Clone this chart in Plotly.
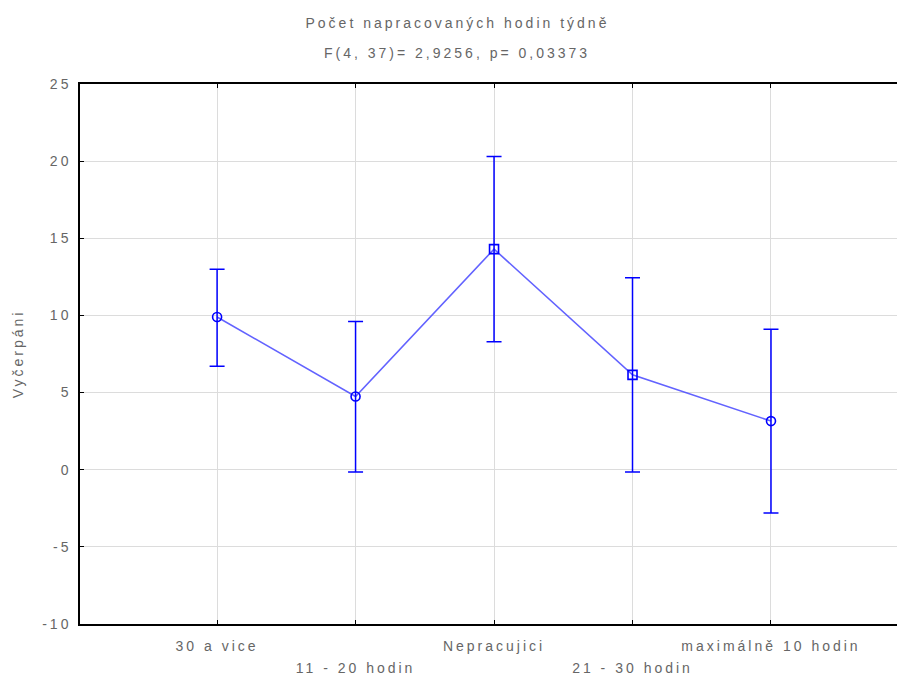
import plotly.graph_objects as go

categories = ["30 a vice", "11 - 20 hodin", "Nepracujici", "21 - 30 hodin", "maximálně 10 hodin"]
means = [9.9, 4.75, 14.3, 6.15, 3.15]
err_up = [3.1, 4.85, 6.0, 6.3, 5.95]
err_down = [3.2, 4.9, 6.0, 6.3, 5.95]
marker_symbols = ["circle-open", "circle-open", "square-open", "square-open", "circle-open"]
y_ticks = [-10, -5, 0, 5, 10, 15, 20, 25]
y_tick_labels = ["-10", "-5", "0", "5", "10", "15", "20", "25"]
title_line1 = "Počet napracovaných hodin týdně"
title_line2 = "F(4, 37)= 2,9256, p= 0,03373"
y_title = "Vyčerpáni"

idx = list(range(len(categories)))
row2_vals = [i for i in idx if i % 2 == 1]
row2_text = [categories[i] for i in row2_vals]

font_col = "#666666"
fam = "Liberation Sans, Arial, sans-serif"
FS = 14
xr = [-0.99, 4.91]

fig = go.Figure()
fig.add_trace(go.Scatter(
    x=idx, y=means, mode="lines",
    line=dict(color="rgba(70,70,255,0.85)", width=1.6),
    hoverinfo="skip", showlegend=False,
))
fig.add_trace(go.Scatter(
    x=idx, y=means, mode="markers",
    marker=dict(symbol=marker_symbols, size=9, color="#0000ff",
                line=dict(color="#0000ff", width=1.6)),
    error_y=dict(type="data", symmetric=False, array=err_up, arrayminus=err_down,
                 color="#0000ff", thickness=1.5, width=7.5),
    showlegend=False,
))
# invisible trace to keep the second (lower-row) category axis alive
fig.add_trace(go.Scatter(x=idx, y=means, xaxis="x2", mode="markers",
                         marker=dict(opacity=0), hoverinfo="skip", showlegend=False))

fig.update_layout(
    width=897, height=680,
    margin=dict(l=80, r=0, t=84, b=56),
    paper_bgcolor="white", plot_bgcolor="white",
    font=dict(family=fam, size=FS, color=font_col),
    annotations=[
        dict(text=title_line1, xref="paper", yref="paper",
             x=0.462, y=1, yshift=61, showarrow=False, xanchor="center", yanchor="middle",
             font=dict(size=FS, color=font_col)),
        dict(text=title_line2, xref="paper", yref="paper",
             x=0.462, y=1, yshift=31, showarrow=False, xanchor="center", yanchor="middle",
             font=dict(size=FS, color=font_col)),
    ],
    xaxis=dict(
        range=xr, tickmode="array", tickvals=idx,
        ticktext=[categories[i] if i % 2 == 0 else "" for i in idx],
        showgrid=True, gridcolor="#dcdcdc", gridwidth=1,
        showline=True, linecolor="black", linewidth=1.5, mirror="ticks",
        ticks="inside", ticklen=4, tickcolor="black", zeroline=False,
        ticklabelstandoff=8,
        tickfont=dict(size=FS, color=font_col),
    ),
    xaxis2=dict(
        range=xr, overlaying="x", side="bottom", anchor="y",
        tickmode="array", tickvals=row2_vals, ticktext=row2_text,
        showgrid=False, showline=False, zeroline=False, ticks="",
        ticklabelstandoff=34,
        tickfont=dict(size=FS, color=font_col),
    ),
    yaxis=dict(
        range=[-10, 25], tickmode="array", tickvals=y_ticks, ticktext=y_tick_labels,
        showgrid=True, gridcolor="#dcdcdc", gridwidth=1,
        showline=True, linecolor="black", linewidth=1.5, mirror=False,
        ticks="inside", ticklen=4, tickcolor="black", zeroline=False,
        ticklabelstandoff=4,
        title=dict(text=y_title, font=dict(size=FS, color=font_col), standoff=24),
        tickfont=dict(size=FS, color=font_col),
    ),
)

post = """
(function(){
  document.body.style.margin='0';
  document.body.style.overflow='hidden';
  var gd=document.getElementById('{plot_id}');
  function ls(){
    gd.querySelectorAll('text').forEach(function(t){t.style.letterSpacing='3px';});
  }
  ls();
  if(gd.on){gd.on('plotly_afterplot', ls);}
  setTimeout(ls, 50);
})();
"""
fig.write_html("out.html", post_script=post, config={"displayModeBar": False})
